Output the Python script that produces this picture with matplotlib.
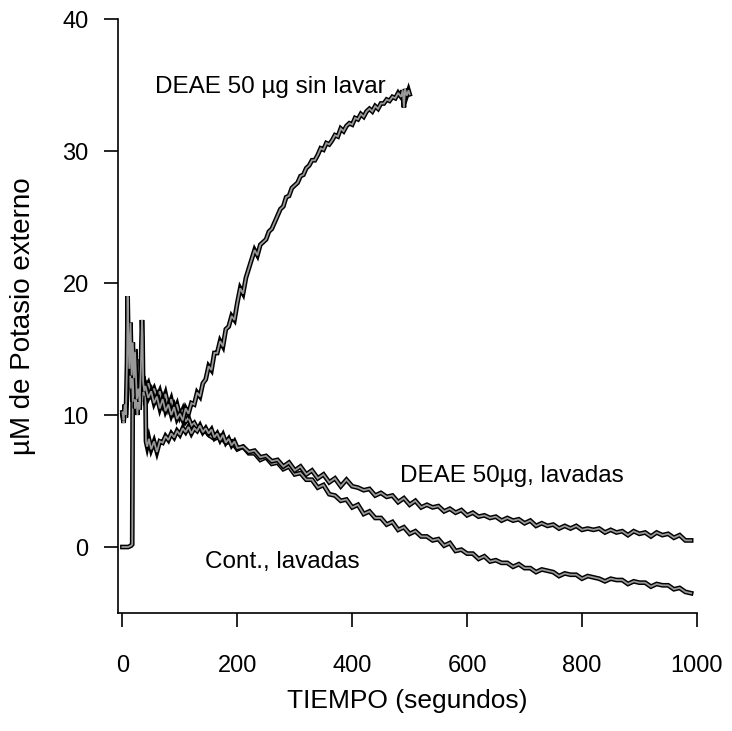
import matplotlib
matplotlib.use('Agg')
import matplotlib.pyplot as plt
import matplotlib.patheffects as pe

plt.rcParams['font.family'] = ['Liberation Sans', 'DejaVu Sans']

# DEAE 50 ug sin lavar
t_sin = [0, 2, 4, 6, 8, 9, 10, 12, 14, 16, 18, 20, 22, 25, 28, 30, 32, 34, 35, 36, 38, 40,
         45, 50, 55, 60, 65, 70, 75, 80, 85, 90, 95,
         100, 105, 110, 115, 120, 125, 130, 135, 140, 145, 150, 155, 160, 165, 170, 175,
         180, 185, 190, 195, 200, 205, 210, 215, 220, 225, 230, 235, 240, 245, 250, 255,
         260, 265, 270, 275, 280, 285, 290, 295, 300, 305, 310, 315, 320, 325, 330, 335,
         340, 345, 350, 355, 360, 365, 370, 375, 380, 385, 390, 395, 400, 405, 410, 415,
         420, 425, 430, 435, 440, 445, 450, 455, 460, 465, 470, 475, 480, 485, 488, 490,
         492, 495, 498, 500]
y_sin = [10.2, 9.6, 10.8, 10.0, 14.0, 19.0, 16.5, 13.5, 17.0, 13.0, 15.5, 12.8, 14.8, 11.2, 12.0, 11.0, 13.5, 17.2, 16.0, 12.5, 11.8, 12.2,
         11.3, 11.8, 10.9, 11.4, 10.5, 11.2, 10.3, 10.8, 10.0, 10.6, 9.7,
         10.1, 9.6, 10.5, 10.1, 10.9, 10.8, 11.7, 11.4, 12.4, 12.7, 13.7, 13.4, 14.7, 14.7, 15.6, 15.2,
         16.5, 16.7, 17.5, 17.2, 18.5, 19.6, 19.2, 20.4, 21.1, 21.8, 22.5, 22.1, 22.9, 23.1, 23.3, 23.9,
         24.1, 24.6, 25.1, 25.6, 25.8, 26.5, 26.6, 27.2, 27.4, 27.6, 28.1, 28.2, 28.7, 28.9, 29.3, 29.3,
         29.7, 30.2, 30.1, 30.6, 30.5, 30.8, 31.2, 31.1, 31.7, 31.5, 31.9, 32.1, 32.0, 32.5, 32.4, 32.8,
         32.6, 33.0, 33.2, 33.0, 33.4, 33.2, 33.6, 33.6, 33.9, 33.8, 34.1, 34.0, 34.4, 34.1, 34.6, 33.3,
         34.7, 34.2, 34.6, 34.3]

# DEAE 50 ug, lavadas
t_lav = [0, 2, 4, 6, 8, 10, 12, 14, 16, 18, 20, 22, 24, 26, 28, 30, 32, 34, 36, 38, 40, 41, 43, 46,
         50, 55, 60, 65, 70, 75, 80, 85, 90, 95, 100, 105, 110, 115, 120, 125, 130, 135, 140, 145,
         150, 155, 160, 165, 170, 175, 180, 185, 190, 195, 200,
         210, 220, 230, 240, 250, 260, 270, 280, 290, 300, 310, 320, 330, 340, 350, 360, 370, 380,
         390, 400, 410, 420, 430, 440, 450, 460, 470, 480, 490, 500, 510, 520, 530, 540, 550, 560,
         570, 580, 590, 600, 610, 620, 630, 640, 650, 660, 670, 680, 690, 700, 710, 720, 730, 740,
         750, 760, 770, 780, 790, 800, 810, 820, 830, 840, 850, 860, 870, 880, 890, 900, 910, 920,
         930, 940, 950, 960, 970, 980, 990]
y_lav = [10.0, 9.4, 10.6, 9.8, 11.5, 13.0, 15.5, 12.0, 14.5, 11.0, 13.5, 10.5, 12.0, 10.0, 11.8, 10.4, 12.6, 11.0, 12.0, 11.5, 11.8, 8.0, 7.6, 8.2,
         7.4, 8.0, 7.2, 8.0, 7.9, 8.4, 8.1, 8.6, 8.3, 8.8, 8.5, 9.0, 8.7, 9.1, 8.6, 9.0, 8.8, 9.2, 8.7, 9.0,
         8.6, 8.9, 8.3, 8.6, 8.1, 8.5, 7.9, 8.2, 7.7, 8.0, 7.5,
         7.6, 7.2, 7.3, 6.8, 6.9, 6.5, 6.6, 6.1, 6.4, 5.8, 6.1, 5.5, 5.8, 5.2, 5.5, 4.9, 5.2, 4.6,
         5.1, 4.6, 4.5, 4.3, 4.4, 3.9, 4.1, 3.8, 3.9, 3.4, 3.7, 3.2, 3.5, 3.0, 3.2, 3.0, 3.1, 2.7,
         2.9, 2.6, 2.8, 2.4, 2.6, 2.3, 2.4, 2.2, 2.3, 2.0, 2.2, 2.0, 2.1, 1.8, 2.0, 1.6, 1.8, 1.6,
         1.7, 1.4, 1.6, 1.4, 1.6, 1.3, 1.4, 1.3, 1.4, 1.1, 1.3, 1.1, 1.2, 0.9, 1.2, 1.0, 1.1, 0.8,
         1.1, 0.9, 1.0, 0.7, 0.9, 0.5, 0.5]

# Cont., lavadas
t_cont = [0, 5, 10, 15, 17, 18, 19, 20, 22, 24, 26, 28, 30, 32, 34, 36, 38, 40, 45, 50, 55, 60,
          65, 70, 75, 80, 85, 90, 95, 100, 105, 110, 115, 120, 125, 130, 135, 140, 145, 150,
          160, 170, 180, 190, 200, 210, 220, 230, 240, 250, 260, 270, 280, 290, 300, 310, 320,
          330, 340, 350, 360, 370, 380, 390, 400, 410, 420, 430, 440, 450, 460, 470, 480, 490,
          500, 510, 520, 530, 540, 550, 560, 570, 580, 590, 600, 610, 620, 630, 640, 650, 660,
          670, 680, 690, 700, 710, 720, 730, 740, 750, 760, 770, 780, 790, 800, 810, 820, 830,
          840, 850, 860, 870, 880, 890, 900, 910, 920, 930, 940, 950, 960, 970, 980, 990]
y_cont = [0.0, 0.0, 0.0, 0.1, 0.2, 13.0, 14.5, 12.5, 15.0, 13.0, 14.2, 12.4, 13.6, 12.2, 13.0, 12.0, 12.6, 12.0, 12.4, 11.6, 12.0, 11.3,
          11.8, 10.9, 11.6, 10.6, 11.2, 10.3, 10.8, 9.9, 10.4, 9.5, 9.8, 9.2, 9.4, 9.0, 9.1, 8.7, 8.8, 8.5,
          8.2, 8.4, 7.9, 8.0, 7.4, 7.6, 7.1, 7.1, 6.6, 6.8, 6.3, 6.4, 5.9, 6.1, 5.5, 5.6, 5.1,
          5.1, 4.5, 4.7, 4.0, 3.9, 3.5, 3.6, 3.0, 3.2, 2.5, 2.7, 2.2, 2.2, 1.7, 1.9, 1.3, 1.5,
          1.0, 1.2, 0.8, 0.8, 0.5, 0.6, 0.1, 0.3, -0.3, -0.2, -0.5, -0.5, -0.9, -0.7, -1.1, -1.0, -1.2,
          -1.2, -1.5, -1.3, -1.6, -1.6, -1.9, -1.7, -1.8, -1.9, -2.2, -2.0, -2.1, -2.1, -2.4, -2.2, -2.3, -2.4,
          -2.6, -2.4, -2.5, -2.5, -2.8, -2.6, -2.7, -2.7, -3.0, -2.8, -2.9, -2.9, -3.2, -3.1, -3.4, -3.5]

labels = ['DEAE 50 µg sin lavar', 'DEAE 50µg, lavadas', 'Cont., lavadas']
label_pos = [(57, 34.4), (483, 4.9), (144, -1.6)]

fig = plt.figure(figsize=(7.32, 7.31), dpi=100)
ax = fig.add_axes([0.161, 0.1614, 0.791, 0.8126])

outline = [pe.Stroke(linewidth=3.4, foreground='black'), pe.Normal()]
for t, y in [(t_cont, y_cont), (t_lav, y_lav), (t_sin, y_sin)]:
    ax.plot(t, y, color='0.6', lw=1.3, path_effects=outline, solid_joinstyle='miter')

for txt, (x, y) in zip(labels, label_pos):
    ax.text(x, y, txt, fontsize=17.5, ha='left', va='baseline')

ax.set_xlim(-8, 1000)
ax.set_ylim(-5, 40)
ax.set_xticks([0, 200, 400, 600, 800, 1000])
ax.set_yticks([0, 10, 20, 30, 40])
ax.spines['top'].set_visible(False)
ax.spines['right'].set_visible(False)
for s in ['left', 'bottom']:
    ax.spines[s].set_linewidth(1.2)
ax.tick_params(axis='both', direction='out', length=10, width=1.2, labelsize=17)
ax.tick_params(axis='x', pad=20)
ax.tick_params(axis='y', pad=11)
ax.set_xlabel('TIEMPO (segundos)', fontsize=19, labelpad=9)
ax.set_ylabel('µM de Potasio externo', fontsize=20, labelpad=19)

fig.savefig('out.png', dpi=100)
